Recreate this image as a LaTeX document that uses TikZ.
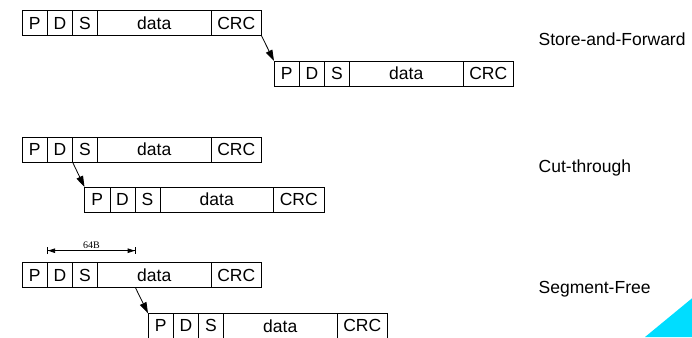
\documentclass[tikz,border=0pt]{standalone}
\usepackage{fontspec}
\setmainfont{Liberation Sans}
\newfontfamily\dimfont{Liberation Serif}
\usetikzlibrary{arrows.meta}
\definecolor{cyantri}{RGB}{0,221,255}
\newcommand\pkt[3]{%
  \node[cellbox,minimum width=25.5pt] (#1-P) at (#2,#3) {P};
  \node[cellbox,minimum width=25pt] (#1-D) at (#1-P.east) {D};
  \node[cellbox,minimum width=25pt] (#1-S) at (#1-D.east) {S};
  \node[cellbox,minimum width=113.5pt] (#1-data) at (#1-S.east) {data};
  \node[cellbox,minimum width=50.5pt] (#1-CRC) at (#1-data.east) {CRC};
}
\tikzset{
  cellbox/.style={draw,line width=0.8pt,minimum height=25pt,inner sep=0pt,outer sep=0pt,anchor=west,
    font=\fontsize{17.5}{20}\selectfont},
  lab/.style={anchor=west,inner sep=0pt,font=\fontsize{17.5}{20}\selectfont},
  arr/.style={line width=0.8pt,-{Triangle[length=11pt,width=7pt]}},
  dimarr/.style={line width=0.8pt,{Bar[width=7pt]Triangle[length=7pt,width=4.5pt]}-{Triangle[length=7pt,width=4.5pt]Bar[width=7pt]}},
}
\begin{document}
\begin{tikzpicture}[x=1pt,y=-1pt]
\useasboundingbox (0,0) rectangle (692,337);
% Store-and-Forward
\pkt{a}{22}{23.3}
\pkt{b}{274}{73.5}
\draw[arr] (a-CRC.south east) -- (b-P.north west);
% Cut-through
\pkt{c}{22}{149.5}
\pkt{d}{84.5}{199.5}
\draw[arr] (c-D.south east) -- (d-P.north west);
% Segment-Free
\pkt{e}{22}{275.3}
\pkt{f}{148}{325.8}
\coordinate (dimL) at (47.3,250.7);
\coordinate (dimR) at (135.5,250.7);
\draw[dimarr] (dimL) -- node[above=0.5pt,inner sep=1pt,font=\dimfont\fontsize{10}{12}\selectfont] (lbl64) {64B} (dimR);
\draw[arr] (dimR |- e-data.south) -- (f-P.north west);
% labels
\node[lab] (sfw) at (538.5,39.3) {Store-and-Forward};
\node[lab] (ctr) at (538.5,168.3) {Cut-through};
\node[lab] (sgf) at (538.5,289.3) {Segment-Free};
% corner triangle
\fill[cyantri] (692,298.3) -- (692,337) -- (645,337) -- cycle;
\end{tikzpicture}
\end{document}
